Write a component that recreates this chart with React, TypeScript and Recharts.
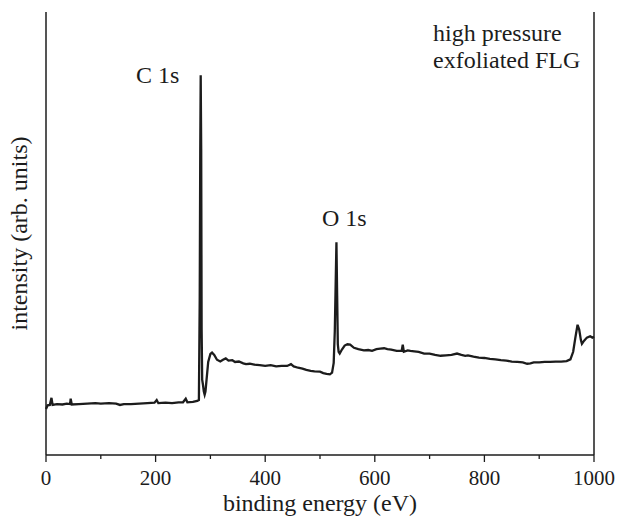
import React from 'react'
import { LineChart, Line, XAxis, YAxis, CartesianGrid } from 'recharts'

const energy = [
  0, 3, 7, 10, 12, 20, 30, 38, 44, 45, 47, 60, 75, 90, 100, 115, 128, 135, 142, 155,
  170, 185, 198, 202, 205, 218, 230, 242, 250, 255, 258, 268, 276, 279, 280.5, 281.5,
  282.3, 283.2, 284, 285, 286.5, 288, 289.5, 291, 293, 296, 300, 303, 307, 312, 318,
  323, 328, 333, 340, 345, 352, 360, 365, 372, 380, 390, 400, 410, 420, 430, 440, 447,
  452, 460, 468, 475, 483, 490, 500, 506, 512, 518, 522, 525, 527, 528.5, 530, 531.3,
  532.5, 534, 536, 540, 545, 550, 555, 562, 570, 580, 588, 595, 603, 610, 617, 623,
  630, 640, 649, 651, 653, 660, 665, 672, 680, 690, 700, 710, 720, 730, 740, 750, 758,
  765, 770, 780, 790, 800, 810, 820, 830, 840, 850, 860, 870, 878, 884, 890, 900, 910,
  920, 930, 940, 950, 957, 962, 966, 970, 973, 976, 978, 982, 987, 993, 997, 1000
]

// intensity (arb. units)
const intensity = [
  10.4, 11.2, 11.3, 12.9, 11.3, 11.5, 11.4, 11.6, 11.5, 12.7, 11.4, 11.5, 11.6, 11.7, 11.6, 11.7, 11.6, 11.3, 11.5, 11.5,
  11.6, 11.7, 11.8, 12.4, 11.7, 11.8, 11.7, 11.9, 11.9, 12.7, 11.9, 12.0, 12.2, 12.4, 35, 69,
  85.7, 69, 28.3, 17, 15.8, 14.3, 13.6, 14.3, 17.0, 21.0, 22.8, 23.1, 22.6, 21.5, 21.1,
  21.5, 21.8, 21.3, 21.4, 21.0, 21.1, 20.7, 20.5, 20.6, 20.4, 20.3, 20.1, 20.3, 20.0, 20.1, 20.1, 20.5,
  20.0, 19.7, 19.5, 19.2, 19.0, 18.9, 18.8, 18.5, 18.3, 18.2, 18.6, 20.8, 28, 38, 48, 36,
  25, 23.3, 22.9, 23.8, 24.7, 25.0, 24.9, 24.2, 23.9, 23.6, 23.7, 23.5, 23.9, 24.0, 24.1, 23.9,
  23.8, 23.5, 23.5, 24.9, 23.3, 23.6, 23.5, 23.4, 23.3, 22.9, 22.9, 22.6, 22.4, 22.5, 22.6, 22.9, 22.6,
  22.4, 22.5, 22.2, 22.0, 21.9, 21.7, 21.6, 21.4, 21.3, 21.1, 21.0, 20.9, 20.6, 20.7, 20.9, 20.9, 21.0,
  21.0, 21.1, 21.1, 21.2, 21.6, 23.3, 26.5, 29.4, 28.3, 26.0, 25.1, 25.8, 26.5, 26.8, 26.5, 26.7
]

const xTicks = [0, 100, 200, 300, 400, 500, 600, 700, 800, 900, 1000]

const data = energy.map((e, i) => ({ energy: e, intensity: intensity[i] }))

const INK = '#1c1c1c'
const SERIF = '"Liberation Serif", Tinos, "Times New Roman", serif'

const EnergyTick = (props: any) => {
  const { x, y, payload } = props
  const major = payload.value % 200 === 0
  return (
    <g>
      <line x1={x} y1={y} x2={x} y2={y + (major ? 7 : 4)} stroke={INK} strokeWidth={1.3} />
      {major && (
        <text x={x} y={y + 30} textAnchor="middle" fontSize={21} fill={INK} style={{ fontFamily: SERIF }}>
          {payload.value}
        </text>
      )}
    </g>
  )
}

const note: React.CSSProperties = {
  position: 'absolute',
  fontFamily: SERIF,
  fontSize: 24,
  color: INK,
  whiteSpace: 'nowrap',
  lineHeight: 1
}

export default function App() {
  return (
    <div style={{ position: 'absolute', left: 0, top: 0, width: 619, height: 520, background: '#fff', fontFamily: SERIF }}>
      <LineChart
        width={619}
        height={520}
        data={data}
        margin={{ top: 12, right: 25, left: 0, bottom: 0 }}
      >
        {/* top and right edges of the frame */}
        <CartesianGrid
          horizontalValues={[100]}
          verticalValues={[1000]}
          stroke={INK}
          strokeWidth={1.5}
          strokeOpacity={1}
        />
        <XAxis
          dataKey="energy"
          type="number"
          domain={[0, 1000]}
          ticks={xTicks}
          interval={0}
          tickSize={0}
          tickMargin={0}
          tickLine={false}
          tick={<EnergyTick />}
          height={65}
          axisLine={{ stroke: INK, strokeWidth: 1.5 }}
          label={{
            value: 'binding energy (eV)',
            position: 'insideBottom',
            offset: 9,
            style: { fontFamily: SERIF, fontSize: 24, fill: INK }
          }}
        />
        <YAxis
          type="number"
          domain={[0, 100]}
          width={46}
          tick={false}
          tickLine={false}
          axisLine={{ stroke: INK, strokeWidth: 1.5 }}
          label={{
            value: 'intensity (arb. units)',
            angle: -90,
            position: 'insideLeft',
            offset: 18,
            style: { textAnchor: 'middle', fontFamily: SERIF, fontSize: 24, fill: INK }
          }}
        />
        <Line
          type="linear"
          dataKey="intensity"
          stroke={INK}
          strokeWidth={2.3}
          dot={false}
          isAnimationActive={false}
        />
      </LineChart>
      <div style={{ ...note, left: 433, top: 21 }}>high pressure</div>
      <div style={{ ...note, left: 433, top: 48 }}>exfoliated FLG</div>
      <div style={{ ...note, left: 136, top: 63 }}>C 1s</div>
      <div style={{ ...note, left: 322, top: 206 }}>O 1s</div>
    </div>
  )
}
